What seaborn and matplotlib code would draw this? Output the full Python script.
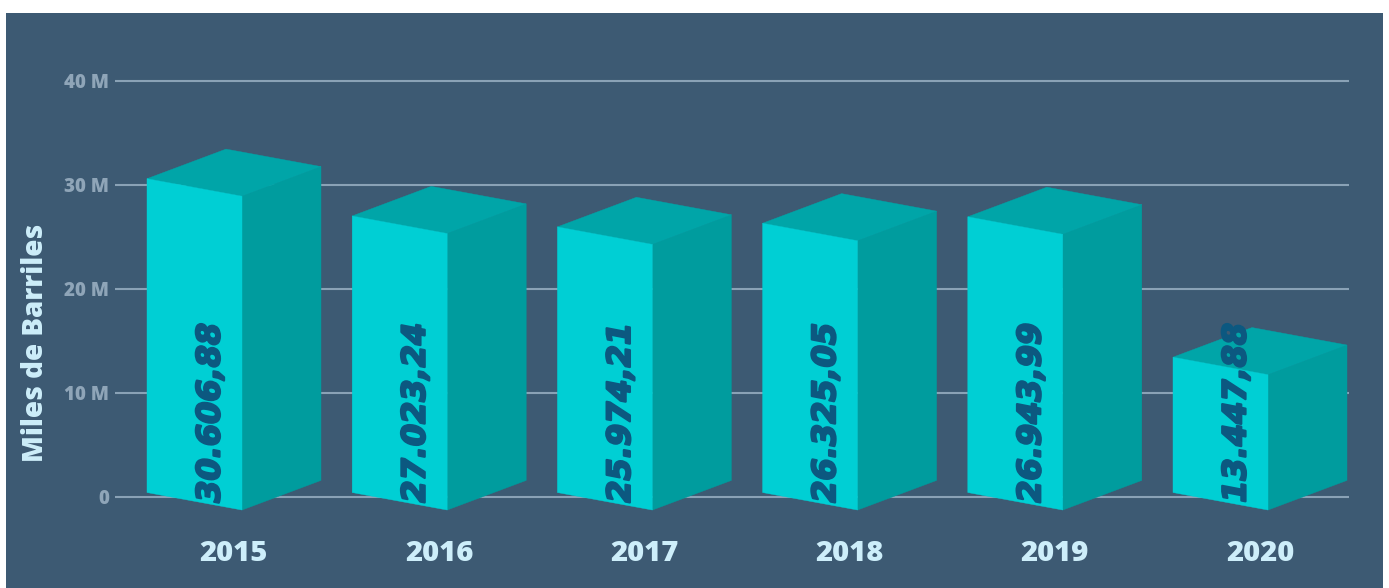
import matplotlib
matplotlib.use("Agg")
import matplotlib.pyplot as plt
from matplotlib.patches import Polygon, Rectangle
import matplotlib.patheffects as pe
import seaborn as sns
import pandas as pd

# ---- data ----
years = ["2015", "2016", "2017", "2018", "2019", "2020"]
values = [30606.88, 27023.24, 25974.21, 26325.05, 26943.99, 13447.88]  # miles de barriles
value_labels = ["30.606,88", "27.023,24", "25.974,21", "26.325,05", "26.943,99", "13.447,88"]
y_ticks = [0, 10, 20, 30, 40]
y_tick_labels = ["0", "10 M", "20 M", "30 M", "40 M"]
y_title = "Miles de Barriles"

# ---- style ----
BG = "#3d5a73"
FRONT = "#00cfd4"
TOP = "#00a5a8"
SIDE = "#009c9e"
LABEL = "#0c5880"
GRID = "#8aa2b6"
TICK = "#8fa5b8"
LIGHT = "#cdeefa"

sns.set_theme(style="white")
plt.rcParams["font.family"] = ["Open Sans", "DejaVu Sans"]

W, H = 1389, 588
fig = plt.figure(figsize=(W / 100, H / 100), dpi=100, facecolor="white")
fig.patches.append(Rectangle((6 / W, 0), (1383 - 6) / W, (H - 13) / H,
                             transform=fig.transFigure, facecolor=BG,
                             edgecolor="none", zorder=-10))

ax_left, ax_right = 115, 1349
ax_bottom_px, ax_top_px = 520, 13
ax = fig.add_axes([ax_left / W, (H - ax_bottom_px) / H,
                   (ax_right - ax_left) / W, (ax_bottom_px - ax_top_px) / H])
ax.set_facecolor("none")

df = pd.DataFrame({"year": years, "value": [v / 1000 for v in values]})
sns.barplot(data=df, x="year", y="value", color=FRONT, width=0.463,
            saturation=1, ax=ax, errorbar=None)

# scale: 10.4 px per million, 205.2 px per category
px_per_m = 10.4
px_per_cat = 205.2
ax.set_xlim((ax_left - 234) / px_per_cat, (ax_right - 234) / px_per_cat)
ax.set_ylim((497 - ax_bottom_px) / px_per_m, (497 - ax_top_px) / px_per_m)

dx = 79 / px_per_cat     # depth in x
dy = 29.6 / px_per_m     # depth in y
skew = 17.5 / px_per_m   # front face drop from left to right
base = 0.43              # front-left bottom

for p, lab in zip(ax.patches, value_labels):
    w = p.get_width()
    c = p.get_x() + w / 2
    h = p.get_height()
    p.set_visible(False)
    x0 = c - (w + dx) / 2
    x1 = x0 + w
    front = [(x0, base), (x1, base - skew), (x1, h - skew), (x0, h)]
    top = [(x0, h), (x1, h - skew), (x1 + dx, h - skew + dy), (x0 + dx, h + dy)]
    side = [(x1, base - skew), (x1 + dx, base - skew + dy),
            (x1 + dx, h - skew + dy), (x1, h - skew)]
    for poly, col in ((side, SIDE), (top, TOP), (front, FRONT)):
        ax.add_patch(Polygon(poly, closed=True, facecolor=col, edgecolor=col,
                             lw=0.3, zorder=3, clip_on=False))
    t = ax.text(c - 23 / px_per_cat, -0.55, lab, rotation=90, ha="center",
                va="bottom", fontsize=23, color=LABEL, zorder=5,
                family="DejaVu Sans", weight="bold", style="italic")
    t.set_path_effects([pe.withStroke(linewidth=1.6, foreground=LABEL)])

ax.set_yticks(y_ticks)
ax.set_yticklabels(y_tick_labels)
ax.yaxis.grid(True, color=GRID, lw=1.5)
ax.xaxis.grid(False)
ax.set_axisbelow(True)
for s in ax.spines.values():
    s.set_visible(False)
ax.tick_params(axis="y", length=0, pad=4, labelsize=13.5, labelcolor=TICK)
ax.tick_params(axis="x", length=0, pad=14, labelsize=21, labelcolor=LIGHT)
for t in ax.get_yticklabels():
    t.set_fontweight(800)
for t in ax.get_xticklabels():
    t.set_fontweight(800)
ax.set_xlabel("")
ax.set_ylabel("")

fig.text(36 / W, 1 - 343 / H, y_title, rotation=90, ha="center", va="center",
         fontsize=20, fontweight=800, color=LIGHT)

fig.savefig("out.png", dpi=100, facecolor="white")
